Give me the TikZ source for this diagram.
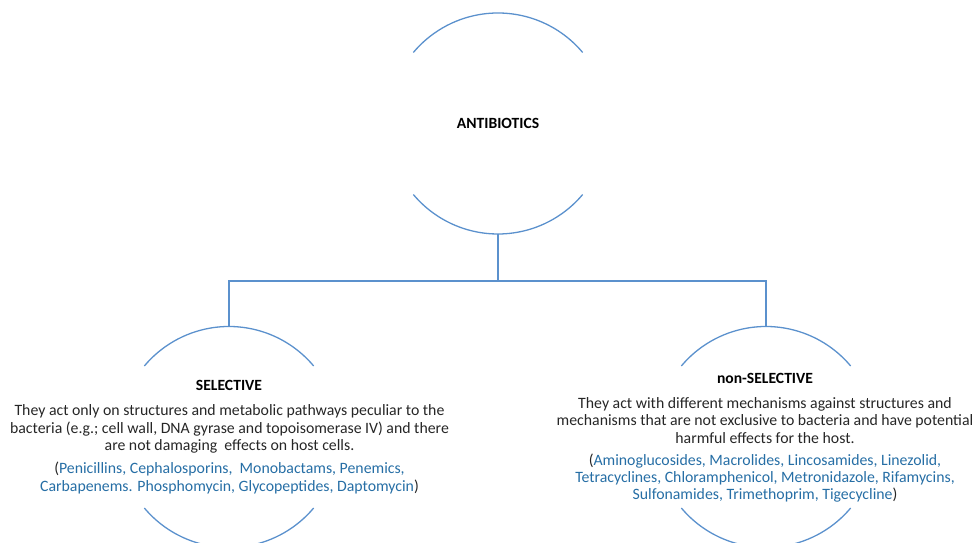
\documentclass[tikz,border=0pt]{standalone}
\usepackage{fontspec}
\setmainfont{Carlito}
\usepackage{xcolor}
\usepackage{tikz}
\definecolor{arcblue}{RGB}{91,145,205}
\definecolor{drugblue}{RGB}{38,110,165}
\definecolor{bodygray}{RGB}{38,38,38}

\begin{document}
\begin{tikzpicture}[x=1pt,y=1pt,
  ring/.style={circle,minimum size=221pt,inner sep=0pt,outer sep=0pt},
  link/.style={draw=arcblue,line width=1.3pt},
  head/.style={font=\fontsize{15.6}{17}\selectfont\bfseries,text=black},
  body/.style={align=center,font=\fontsize{15.8}{17.3}\selectfont,text=bodygray},
  drugs/.style={align=center,font=\fontsize{15.8}{17.4}\selectfont,text=drugblue}]
\useasboundingbox (0,0) rectangle (975,543);
\path (498,419.5) node(root) [ring] {}
(229,106) node(sel) [ring] {}
(766,106) node(nonsel) [ring] {};
% partial rings
\foreach \n in {root,sel,nonsel} {
  \draw[link] (\n.40) arc[start angle=40,end angle=140,radius=110.5pt];
  \draw[link] (\n.220) arc[start angle=220,end angle=320,radius=110.5pt];
}
\coordinate (fork) at (498,262);
\draw[link] (root.south) -- (fork);
\draw[link] (sel.north) |- (fork) -| (nonsel.north);
% labels
\node[head] (rootlabel) at (root) {ANTIBIOTICS};
\node[head] (sellabel) at (229,158) {SELECTIVE};
\node[body] (seltext) at (229.5,114) {They act only on structures and metabolic pathways peculiar to the\\
bacteria (e.g.; cell wall, DNA gyrase and topoisomerase IV) and there\\
are not damaging~ effects on host cells.};
\node[drugs] (seldrugs) at (229.5,65) {\textcolor{bodygray}{(}Penicillins, Cephalosporins,~ Monobactams, Penemics,\\
Carbapenems. Phosphomycin, Glycopeptides, Daptomycin\textcolor{bodygray}{)}};
\node[head] (nonsellabel) at (765,165) {non-SELECTIVE};
\node[body] (nonseltext) at (765,122.5) {They act with different mechanisms against structures and\\
mechanisms that are not exclusive to bacteria and have potential\\
harmful effects for the host.};
\node[drugs] (nonseldrugs) at (765,65) {\textcolor{bodygray}{(}Aminoglucosides, Macrolides, Lincosamides, Linezolid,\\
Tetracyclines, Chloramphenicol, Metronidazole, Rifamycins,\\
Sulfonamides, Trimethoprim, Tigecycline\textcolor{bodygray}{)}};
\end{tikzpicture}
\end{document}
